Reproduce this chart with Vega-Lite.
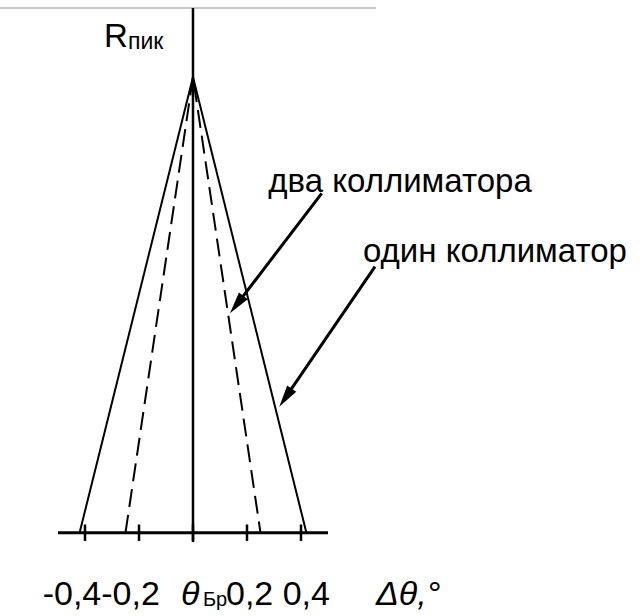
{
  "$schema": "https://vega.github.io/schema/vega-lite/v6.json",
  "width": 640,
  "height": 616,
  "autosize": {"type": "none"},
  "padding": 0,
  "background": "white",
  "config": {
    "view": {"stroke": null}
  },
  "datasets": {
    "topline": [{"x": -0.72, "x2": 0.678, "y": 1.1514}],
    "axisx": [{"x": -0.5, "x2": 0.5, "y": 0}],
    "axisy": [{"x": 0, "y": -0.0204, "y2": 1.1514}],
    "ticks": [
      {"x": -0.4, "y": -0.018, "y2": 0.018},
      {"x": -0.2, "y": -0.018, "y2": 0.018},
      {"x": 0, "y": -0.018, "y2": 0.018},
      {"x": 0.2, "y": -0.018, "y2": 0.018},
      {"x": 0.4, "y": -0.018, "y2": 0.018}
    ],
    "profiles": [
      {"series": "один коллиматор", "i": 0, "x": -0.42, "y": 0},
      {"series": "один коллиматор", "i": 1, "x": 0, "y": 1},
      {"series": "один коллиматор", "i": 2, "x": 0.42, "y": 0},
      {"series": "два коллиматора", "i": 0, "x": -0.25, "y": 0},
      {"series": "два коллиматора", "i": 1, "x": 0, "y": 1},
      {"series": "два коллиматора", "i": 2, "x": 0.25, "y": 0}
    ],
    "arrows": [
      {"label": "два коллиматора", "x": 0.4767, "y": 0.7448, "xs": 0.1596, "ys": 0.4988, "xt": 0.137, "yt": 0.4815, "angle": 217.4},
      {"label": "один коллиматор", "x": 0.6741, "y": 0.5837, "xs": 0.3404, "ys": 0.2947, "xt": 0.3196, "yt": 0.2765, "angle": 214.4}
    ],
    "seriesLabels": [
      {"text": "два коллиматора", "x": 0.2789, "y": 0.7483},
      {"text": "один коллиматор", "x": 0.6296, "y": 0.5934}
    ],
    "tickText": [
      {"text": "-0,4-0,2", "x": -0.5567, "y": -0.1587},
      {"text": "0,2 0,4", "x": 0.1222, "y": -0.1587}
    ],
    "rText": [
      {"text": "R", "x": -0.3296, "y": 1.0665}
    ],
    "italicText": [
      {"text": "θ", "x": -0.0444, "y": -0.1587},
      {"text": "Δθ,°", "x": 0.6778, "y": -0.1587}
    ],
    "subText": [
      {"text": "пик", "x": -0.2407, "y": 1.0615, "size": "peak"},
      {"text": "Бр", "x": 0.037, "y": -0.1609, "size": "bragg"}
    ]
  },
  "encoding": {
    "x": {"field": "x", "type": "quantitative", "scale": {"domain": [-0.7148, 1.6556], "nice": false, "zero": false}, "axis": null},
    "y": {"field": "y", "type": "quantitative", "scale": {"domain": [-0.1828, 1.169], "nice": false, "zero": false}, "axis": null}
  },
  "layer": [
    {
      "data": {"name": "topline"},
      "mark": {"type": "rule", "color": "#c8c8c8", "strokeWidth": 2},
      "encoding": {"x2": {"field": "x2"}}
    },
    {
      "data": {"name": "axisx"},
      "mark": {"type": "rule", "color": "black", "strokeWidth": 3},
      "encoding": {"x2": {"field": "x2"}}
    },
    {
      "data": {"name": "axisy"},
      "mark": {"type": "rule", "color": "black", "strokeWidth": 2.5},
      "encoding": {"y2": {"field": "y2"}}
    },
    {
      "data": {"name": "ticks"},
      "mark": {"type": "rule", "color": "black", "strokeWidth": 2.5},
      "encoding": {"y2": {"field": "y2"}}
    },
    {
      "data": {"name": "profiles"},
      "mark": {"type": "line", "color": "black", "strokeWidth": 2},
      "encoding": {
        "detail": {"field": "series"},
        "order": {"field": "i"},
        "strokeDash": {
          "field": "series",
          "type": "nominal",
          "scale": {"domain": ["один коллиматор", "два коллиматора"], "range": [[1, 0], [18, 8]]},
          "legend": null
        }
      }
    },
    {
      "data": {"name": "arrows"},
      "mark": {"type": "rule", "color": "black", "strokeWidth": 3},
      "encoding": {"x2": {"field": "xs"}, "y2": {"field": "ys"}}
    },
    {
      "data": {"name": "arrows"},
      "mark": {"type": "point", "shape": "M0,0L0.5,2L-0.5,2Z", "filled": true, "color": "black", "opacity": 1, "size": 484},
      "encoding": {
        "x": {"field": "xt", "type": "quantitative"},
        "y": {"field": "yt", "type": "quantitative"},
        "angle": {"field": "angle", "type": "quantitative", "scale": null}
      }
    },
    {
      "data": {"name": "seriesLabels"},
      "mark": {"type": "text", "font": "Liberation Sans", "fontSize": 33, "color": "black", "align": "left", "baseline": "alphabetic"},
      "encoding": {"text": {"field": "text"}}
    },
    {
      "data": {"name": "tickText"},
      "mark": {"type": "text", "font": "Liberation Sans", "fontSize": 34, "color": "black", "align": "left", "baseline": "alphabetic"},
      "encoding": {"text": {"field": "text"}}
    },
    {
      "data": {"name": "rText"},
      "mark": {"type": "text", "font": "Liberation Sans", "fontSize": 33, "color": "black", "align": "left", "baseline": "alphabetic"},
      "encoding": {"text": {"field": "text"}}
    },
    {
      "data": {"name": "italicText"},
      "mark": {"type": "text", "font": "Liberation Sans", "fontSize": 34, "fontStyle": "italic", "color": "black", "align": "left", "baseline": "alphabetic"},
      "encoding": {"text": {"field": "text"}}
    },
    {
      "data": {"name": "subText"},
      "mark": {"type": "text", "font": "Liberation Sans", "color": "black", "align": "left", "baseline": "alphabetic"},
      "encoding": {
        "text": {"field": "text"},
        "size": {"field": "size", "type": "nominal", "scale": {"domain": ["peak", "bragg"], "range": [23, 20]}, "legend": null}
      }
    }
  ]
}
